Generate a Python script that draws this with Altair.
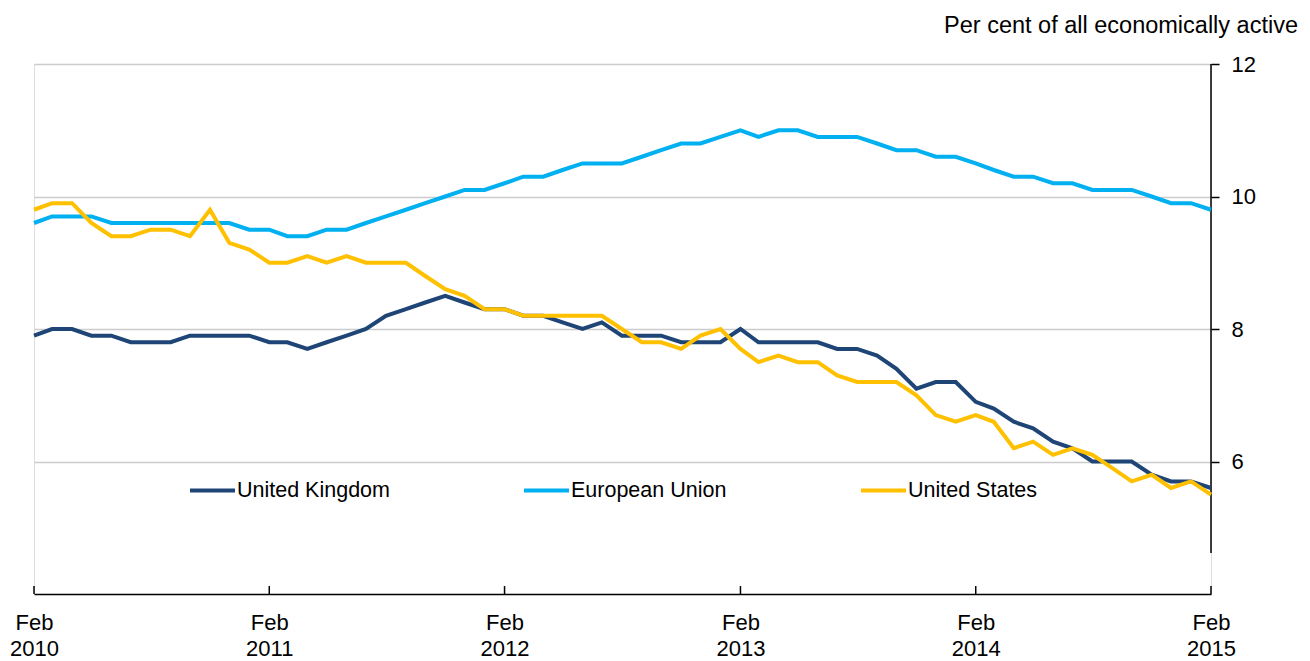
import altair as alt
import pandas as pd

# Monthly observations, Feb 2010 .. Feb 2015
months = [d.strftime("%Y-%m-%d") for d in pd.date_range("2010-02-01", periods=61, freq="MS")]

uk = [7.9, 8.0, 8.0, 7.9, 7.9, 7.8, 7.8, 7.8, 7.9, 7.9,
      7.9, 7.9, 7.8, 7.8, 7.7, 7.8, 7.9, 8.0, 8.2, 8.3,
      8.4, 8.5, 8.4, 8.3, 8.3, 8.2, 8.2, 8.1, 8.0, 8.1,
      7.9, 7.9, 7.9, 7.8, 7.8, 7.8, 8.0, 7.8, 7.8, 7.8,
      7.8, 7.7, 7.7, 7.6, 7.4, 7.1, 7.2, 7.2, 6.9, 6.8,
      6.6, 6.5, 6.3, 6.2, 6.0, 6.0, 6.0, 5.8, 5.7, 5.7,
      5.6]

eu = [9.6, 9.7, 9.7, 9.7, 9.6, 9.6, 9.6, 9.6, 9.6, 9.6,
      9.6, 9.5, 9.5, 9.4, 9.4, 9.5, 9.5, 9.6, 9.7, 9.8,
      9.9, 10.0, 10.1, 10.1, 10.2, 10.3, 10.3, 10.4, 10.5, 10.5,
      10.5, 10.6, 10.7, 10.8, 10.8, 10.9, 11.0, 10.9, 11.0, 11.0,
      10.9, 10.9, 10.9, 10.8, 10.7, 10.7, 10.6, 10.6, 10.5, 10.4,
      10.3, 10.3, 10.2, 10.2, 10.1, 10.1, 10.1, 10.0, 9.9, 9.9,
      9.8]

us = [9.8, 9.9, 9.9, 9.6, 9.4, 9.4, 9.5, 9.5, 9.4, 9.8,
      9.3, 9.2, 9.0, 9.0, 9.1, 9.0, 9.1, 9.0, 9.0, 9.0,
      8.8, 8.6, 8.5, 8.3, 8.3, 8.2, 8.2, 8.2, 8.2, 8.2,
      8.0, 7.8, 7.8, 7.7, 7.9, 8.0, 7.7, 7.5, 7.6, 7.5,
      7.5, 7.3, 7.2, 7.2, 7.2, 7.0, 6.7, 6.6, 6.7, 6.6,
      6.2, 6.3, 6.1, 6.2, 6.1, 5.9, 5.7, 5.8, 5.6, 5.7,
      5.5]

series_names = ["United Kingdom", "European Union", "United States"]
series_colors = ["#1f4577", "#00b0f0", "#ffc000"]

tick_dates = ["2010-02-01", "2011-02-01", "2012-02-01", "2013-02-01", "2014-02-01", "2015-02-01"]
y_ticks = [6, 8, 10, 12]
y_min, y_max = 4, 12
y_axis_low = 4.62      # right-hand axis line stops short of the bottom
x_tick_len = 0.12      # upward tick marks on the date axis (in y units)
unit_label = "Per cent of all economically active"

FONT = "Liberation Sans"

rows = []
for name, vals in zip(series_names, [uk, eu, us]):
    for m, v in zip(months, vals):
        rows.append({"date": m, "series": name, "value": v})
df = pd.DataFrame(rows)

x_scale = alt.Scale(type="utc",
                    domain=[alt.DateTime(year=2010, month=2, date=1, utc=True),
                            alt.DateTime(year=2015, month=2, date=1, utc=True)],
                    nice=False)
y_scale = alt.Scale(domain=[y_min, y_max], nice=False, zero=False)

x_axis = alt.Axis(
    values=[alt.DateTime(year=int(d[:4]), month=2, date=1, utc=True) for d in tick_dates],
    labelExpr='["Feb", utcFormat(datum.value, "%Y")]',
    ticks=False, grid=False, title=None,
    domainColor="black", domainWidth=1.5,
    labelFont=FONT, labelFontSize=22, labelLineHeight=26, labelColor="black",
    labelPadding=18, labelAlign="center", labelBaseline="top",
    labelFlush=False, labelOverlap=False,
)
y_axis = alt.Axis(
    orient="right", values=y_ticks, title=None, domain=False,
    tickSize=8, tickColor="black", tickWidth=1.5,
    grid=True, gridColor="#cccccc", gridWidth=1.5,
    labelFont=FONT, labelFontSize=22, labelColor="black", labelPadding=12,
)

lines = alt.Chart(df).mark_line(strokeWidth=4).encode(
    x=alt.X("date:T", scale=x_scale, axis=x_axis),
    y=alt.Y("value:Q", scale=y_scale, axis=y_axis),
    color=alt.Color("series:N",
                    scale=alt.Scale(domain=series_names, range=series_colors),
                    legend=alt.Legend(
                        orient="none", legendX=154, legendY=402,
                        direction="horizontal", columns=3, columnPadding=126,
                        title=None, symbolType="stroke", symbolSize=2025,
                        symbolStrokeWidth=4, labelOffset=0,
                        labelFont=FONT, labelFontSize=21.5, labelColor="black",
                        padding=0,
                    )),
)

xticks = alt.Chart(pd.DataFrame({"date": tick_dates, "y0": [y_min] * 6,
                                 "y1": [y_min + x_tick_len] * 6})).mark_rule(
    color="black", strokeWidth=1.5).encode(
    x=alt.X("date:T", scale=x_scale, axis=x_axis),
    y=alt.Y("y0:Q", scale=y_scale, axis=y_axis),
    y2="y1:Q",
)

yline = alt.Chart(pd.DataFrame({"date": [tick_dates[-1]], "y0": [y_axis_low],
                                "y1": [y_max]})).mark_rule(
    color="black", strokeWidth=1.5).encode(
    x=alt.X("date:T", scale=x_scale, axis=x_axis),
    y=alt.Y("y0:Q", scale=y_scale, axis=y_axis),
    y2="y1:Q",
)

unit_text = alt.Chart(pd.DataFrame({"label": [unit_label]})).mark_text(
    align="right", baseline="alphabetic", font=FONT, fontSize=23.5, color="black",
).encode(
    text="label:N",
    x=alt.value(1264),
    y=alt.value(-31),
)

chart = alt.layer(yline, xticks, lines, unit_text).properties(
    width=1177, height=530,
    autosize=alt.AutoSizeParams(type="none"),
    padding={"left": 26, "top": 56, "right": 90, "bottom": 70},
).configure_view(stroke="transparent", strokeWidth=0).configure(background="white")

chart.save("out.html", embed_options={"renderer": "svg", "actions": False})
